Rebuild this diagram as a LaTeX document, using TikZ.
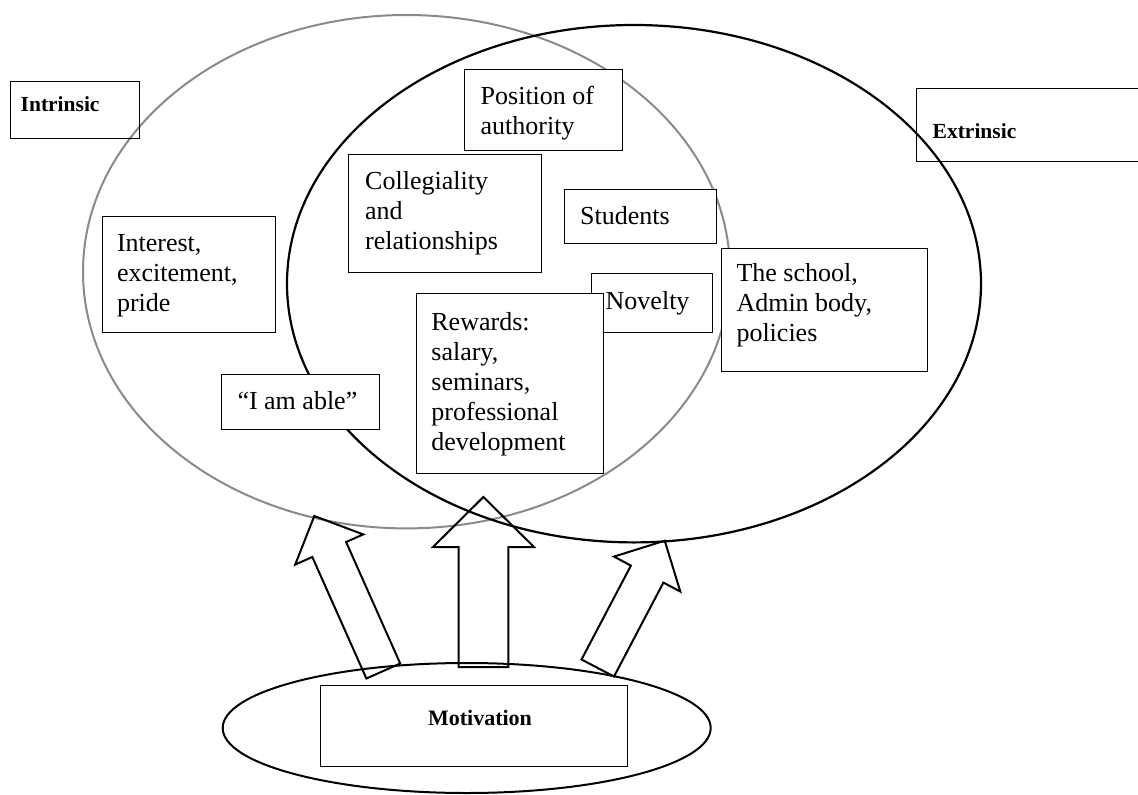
\documentclass[tikz,border=0pt]{standalone}
\usepackage{fontspec}
\setmainfont{Liberation Serif}
\usetikzlibrary{shapes.geometric}
\definecolor{ringgray}{RGB}{138,138,138}
\tikzset{
  ring/.style={ellipse, draw, line width=2pt, inner sep=0pt},
  box/.style={rectangle, draw, line width=1.1pt, anchor=north west, inner sep=0pt},
  whitebox/.style={box, fill=white},
  boxtext/.style={anchor=north west, inner sep=0pt, align=left, font=\fontsize{26}{30}\selectfont},
  headtext/.style={anchor=north west, inner sep=0pt, font=\fontsize{21.5}{25}\selectfont\bfseries},
  blockarrow/.style={draw, line width=2pt, line join=miter},
}

\begin{document}
\begin{tikzpicture}[x=1pt,y=-1pt]
\useasboundingbox (0,0) rectangle (1138,795);
\clip (0,0) rectangle (1138,795);

% the two sets and the motivation ellipse
\node[ring, draw=ringgray, minimum width=647pt, minimum height=513.4pt] (intr) at (406.5,271.7) {};
\node[ring, line width=2.2pt, minimum width=694pt, minimum height=517.4pt] (extr) at (634,283.7) {};
\node[ring, minimum width=488pt, minimum height=130pt] (motiv) at (466.7,728) {};

% block arrows
\draw[blockarrow] (314.3,516) -- (363.2,534.4) -- (346.1,542.0) -- (400.2,663.5) -- (366.4,678.5) -- (312.3,557.0) -- (295.2,564.6) -- cycle;
\draw[blockarrow] (483.4,497) -- (534,547) -- (508.3,547) -- (508.3,667) -- (458.6,667) -- (458.6,547) -- (433,547) -- cycle;
\draw[blockarrow] (664.7,540.7) -- (680.3,591.5) -- (663.4,582.6) -- (614.0,676.5) -- (581.5,659.5) -- (630.9,565.6) -- (614.0,556.6) -- cycle;

% headings
\node[box, minimum width=129.4pt, minimum height=57.3pt] (intrbox) at (9.6,80.7) {};
\node[headtext] (intrlbl) at (20.5,96.7) {Intrinsic};
\node[box, minimum width=240pt, minimum height=73.3pt] (extrbox) at (916,88) {};
\node[headtext] (extrlbl) at (932.5,123.3) {Extrinsic};

% factors
\node[whitebox, minimum width=157.8pt, minimum height=80.4pt] (position) at (464.2,69.3) {};
\node[boxtext] (position-t) at (480.5,85.5) {Position of\\authority};

\node[whitebox, minimum width=192.8pt, minimum height=117.4pt] (colleg) at (348,154.3) {};
\node[boxtext] (colleg-t) at (365,171.2) {Collegiality\\and\\relationships};

\node[whitebox, minimum width=151.3pt, minimum height=54.6pt] (students) at (564.3,188.7) {};
\node[boxtext] (students-t) at (580,206.2) {Students};

\node[whitebox, minimum width=173.3pt, minimum height=116pt] (interest) at (101.7,216) {};
\node[boxtext] (interest-t) at (116.8,234.3) {Interest,\\excitement,\\pride};

\node[whitebox, minimum width=205.4pt, minimum height=123.3pt] (school) at (721.3,247.7) {};
\node[boxtext] (school-t) at (736.3,262.8) {The school,\\Admin body,\\policies};

\node[whitebox, minimum width=121pt, minimum height=58.7pt] (novelty) at (590.7,273.3) {};
\node[boxtext] (novelty-t) at (605.5,291.2) {Novelty};

\node[whitebox, minimum width=186.7pt, minimum height=180pt] (rewards) at (416,293.3) {};
\node[boxtext] (rewards-t) at (431.2,312.2) {Rewards:\\salary,\\seminars,\\professional\\development};

\node[whitebox, minimum width=158.3pt, minimum height=55pt] (able) at (220.7,374) {};
\node[boxtext] (able-t) at (237.3,391.7) {“I am able”};

% motivation
\node[whitebox, minimum width=306.7pt, minimum height=80.7pt] (motivbox) at (320,685) {};
\node[headtext, anchor=base, font=\fontsize{22}{26}\selectfont\bfseries] (motivlbl) at (480,725) {Motivation};

\end{tikzpicture}
\end{document}
